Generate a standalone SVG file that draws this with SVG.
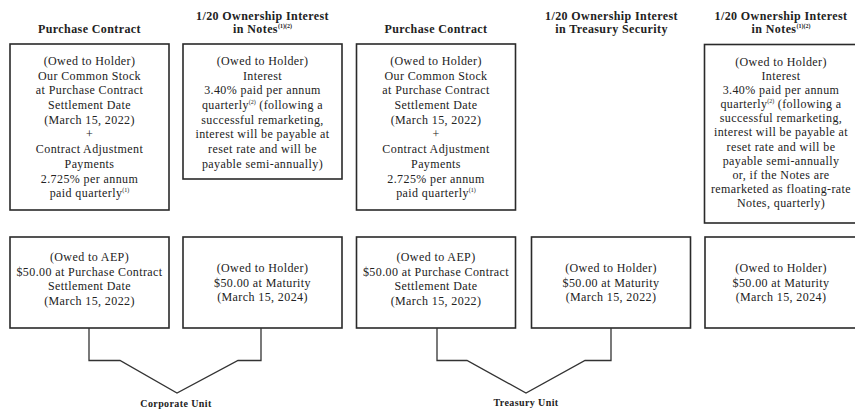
<svg xmlns="http://www.w3.org/2000/svg" width="855" height="412" viewBox="0 0 855 412">
<style>
.bg{fill:#fff}
.box{fill:#fff;stroke:#2a2a2a;stroke-width:1.6}
.t{font-family:"Liberation Serif","Times New Roman",serif;font-size:12px;letter-spacing:0.4px;fill:#222;text-anchor:middle}
.h{font-family:"Liberation Serif","Times New Roman",serif;font-size:12px;font-weight:bold;letter-spacing:0.4px;fill:#222;text-anchor:middle}
.u{font-family:"Liberation Serif","Times New Roman",serif;font-size:10px;font-weight:bold;letter-spacing:0.4px;fill:#222;text-anchor:middle}
.sup{font-size:6px;letter-spacing:0}
.conn{fill:none;stroke:#333;stroke-width:1.3}
</style>
<rect class="bg" x="0" y="0" width="855" height="412"/>

<g id="headers">
<text class="h" x="89.5" y="33">Purchase Contract</text>
<text class="h" x="262.5" y="20">1/20 Ownership Interest</text>
<text class="h" x="262.5" y="33">in Notes<tspan class="sup" dy="-5">(1)(2)</tspan></text>
<text class="h" x="436" y="33">Purchase Contract</text>
<text class="h" x="611.5" y="20">1/20 Ownership Interest</text>
<text class="h" x="611.5" y="33">in Treasury Security</text>
<text class="h" x="781" y="20">1/20 Ownership Interest</text>
<text class="h" x="781" y="33">in Notes<tspan class="sup" dy="-5">(1)(2)</tspan></text>
</g>

<g id="pc1-top">
<rect class="box" x="10" y="44" width="159" height="166"/>
<text class="t" x="89.5" y="65">(Owed to Holder)</text>
<text class="t" x="89.5" y="79.5">Our Common Stock</text>
<text class="t" x="89.5" y="94.3">at Purchase Contract</text>
<text class="t" x="89.5" y="109">Settlement Date</text>
<text class="t" x="89.5" y="123.7">(March 15, 2022)</text>
<text class="t" x="89.5" y="138.4">+</text>
<text class="t" x="89.5" y="153.1">Contract Adjustment</text>
<text class="t" x="89.5" y="167.8">Payments</text>
<text class="t" x="89.5" y="182.5">2.725% per annum</text>
<text class="t" x="89.5" y="197.2">paid quarterly<tspan class="sup" dy="-5">(1)</tspan></text>
</g>

<g id="notes1-top">
<rect class="box" x="183" y="44" width="159" height="135"/>
<text class="t" x="262.5" y="65">(Owed to Holder)</text>
<text class="t" x="262.5" y="79.5">Interest</text>
<text class="t" x="262.5" y="94.2">3.40% paid per annum</text>
<text class="t" x="262.5" y="108.9">quarterly<tspan class="sup" dy="-5">(2)</tspan><tspan dy="5"> (following a</tspan></text>
<text class="t" x="262.5" y="123.6">successful remarketing,</text>
<text class="t" x="262.5" y="138.3">interest will be payable at</text>
<text class="t" x="262.5" y="153">reset rate and will be</text>
<text class="t" x="262.5" y="167.7">payable semi-annually)</text>
</g>

<g id="pc2-top">
<rect class="box" x="356.5" y="44" width="159" height="166"/>
<text class="t" x="436" y="65">(Owed to Holder)</text>
<text class="t" x="436" y="79.5">Our Common Stock</text>
<text class="t" x="436" y="94.3">at Purchase Contract</text>
<text class="t" x="436" y="109">Settlement Date</text>
<text class="t" x="436" y="123.7">(March 15, 2022)</text>
<text class="t" x="436" y="138.4">+</text>
<text class="t" x="436" y="153.1">Contract Adjustment</text>
<text class="t" x="436" y="167.8">Payments</text>
<text class="t" x="436" y="182.5">2.725% per annum</text>
<text class="t" x="436" y="197.2">paid quarterly<tspan class="sup" dy="-5">(1)</tspan></text>
</g>

<g id="notes2-top">
<rect class="box" x="704.5" y="44.5" width="159" height="178.5"/>
<text class="t" x="781" y="65.5">(Owed to Holder)</text>
<text class="t" x="781" y="79.5">Interest</text>
<text class="t" x="781" y="93.7">3.40% paid per annum</text>
<text class="t" x="781" y="107.9">quarterly<tspan class="sup" dy="-5">(2)</tspan><tspan dy="5"> (following a</tspan></text>
<text class="t" x="781" y="122.1">successful remarketing,</text>
<text class="t" x="781" y="136.3">interest will be payable at</text>
<text class="t" x="781" y="150.5">reset rate and will be</text>
<text class="t" x="781" y="164.7">payable semi-annually</text>
<text class="t" x="781" y="178.9">or, if the Notes are</text>
<text class="t" x="781" y="193.1">remarketed as floating-rate</text>
<text class="t" x="781" y="207.3">Notes, quarterly)</text>
</g>

<g id="pc1-bottom">
<rect class="box" x="10" y="237" width="159" height="91"/>
<text class="t" x="89.5" y="261">(Owed to AEP)</text>
<text class="t" x="89.5" y="275.7">$50.00 at Purchase Contract</text>
<text class="t" x="89.5" y="290.4">Settlement Date</text>
<text class="t" x="89.5" y="305.1">(March 15, 2022)</text>
</g>

<g id="notes1-bottom">
<rect class="box" x="183" y="237" width="159" height="91"/>
<text class="t" x="262.5" y="272">(Owed to Holder)</text>
<text class="t" x="262.5" y="286.7">$50.00 at Maturity</text>
<text class="t" x="262.5" y="301.4">(March 15, 2024)</text>
</g>

<g id="pc2-bottom">
<rect class="box" x="356.5" y="237" width="159" height="91"/>
<text class="t" x="436" y="261">(Owed to AEP)</text>
<text class="t" x="436" y="275.7">$50.00 at Purchase Contract</text>
<text class="t" x="436" y="290.4">Settlement Date</text>
<text class="t" x="436" y="305.1">(March 15, 2022)</text>
</g>

<g id="treasury-bottom">
<rect class="box" x="531.5" y="237" width="159" height="91"/>
<text class="t" x="611" y="272">(Owed to Holder)</text>
<text class="t" x="611" y="286.7">$50.00 at Maturity</text>
<text class="t" x="611" y="301.4">(March 15, 2022)</text>
</g>

<g id="notes2-bottom">
<rect class="box" x="705" y="237" width="159" height="91"/>
<text class="t" x="781" y="272">(Owed to Holder)</text>
<text class="t" x="781" y="286.7">$50.00 at Maturity</text>
<text class="t" x="781" y="301.4">(March 15, 2024)</text>
</g>

<g id="connectors">
<polyline class="conn" points="89,328 89,360.5 120,360.5 177,393 238,360.5 261,360.5 261,328"/>
<polyline class="conn" points="437,328 437,360.5 467,360.5 526,393 585,360.5 611,360.5 611,328"/>
</g>

<g id="corporate-unit">
<text class="u" x="176" y="407">Corporate Unit</text>
</g>
<g id="treasury-unit">
<text class="u" x="526" y="406">Treasury Unit</text>
</g>
</svg>
